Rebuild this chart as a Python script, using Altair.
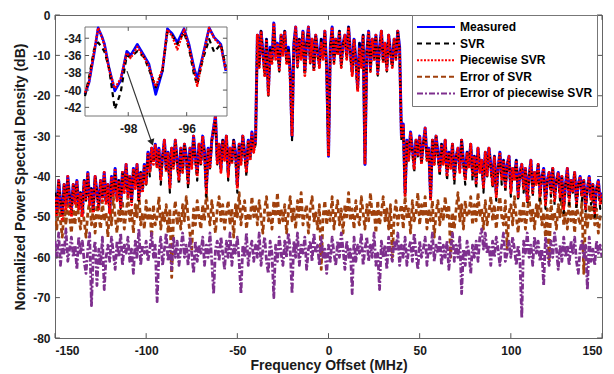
import altair as alt
import pandas as pd

# ---------------- data (1 MHz steps, -150 ... 150 MHz) ----------------
freq = list(range(-150, 151))

measured = [
    -44, -48, -41, -46, -49, -42, -47, -40, -45, -48, -42, -46, -41, -47, -44, -49, -41, -45, -39, -46,
    -43, -48, -40, -44, -47, -41, -45, -39, -46, -42, -48, -40, -44, -38, -45, -41, -47, -39, -43, -37,
    -44, -40, -46, -38, -42, -37, -45, -39, -43, -37, -41,
    -34, -38, -33, -36, -32, -37, -33, -40, -35, -31, -38, -34, -42, -33, -37, -31, -36, -40, -33, -38,
    -32, -35, -41, -33, -37, -30, -35, -39, -32, -36, -30, -34, -43, -33, -37, -31, -28, -25, -36, -32,
    -38, -31, -35, -30, -39, -33, -36, -31, -34, -42, -32, -36, -30, -34, -38, -31, -35, -29, -33, -31,
    -5, -12, -4, -9, -14, -6, -19, -8, -11, -2, -10, -7, -13, -5, -9, -4, -11, -8, -14, -30,
    -7, -3, -12, -6, -10, -4, -14, -7, -3, -11, -6, -13, -5, -9, -12, -6, -10, -4, -13, -35,
    -8, -3, -11, -6, -9, -4, -12, -7, -5, -10, -3, -9, -14, -6, -11, -18, -7, -12, -5, -37,
    -9, -4, -13, -6, -10, -5, -14, -8, -4, -11, -7, -13, -5, -9, -12, -6, -10, -4, -8,
    -30, -27, -44, -31, -35, -29, -33, -37, -31, -34, -30, -36, -32, -28, -35, -33, -45, -31, -36, -30,
    -34, -38, -32, -36, -31, -39, -34, -37, -32, -40, -35, -33, -38, -31, -36, -40, -34, -37, -32, -39,
    -35, -41, -33, -38, -36, -42, -34, -39, -33, -37, -41, -35, -44, -38, -34, -40, -36, -42, -37, -35,
    -43, -38, -40, -36, -44, -39, -37, -42, -38, -45, -40, -36, -43, -39, -41, -37, -44, -40, -38, -46,
    -41, -39, -43, -38, -45, -41, -39, -44, -40, -47, -42, -38, -45, -41, -43, -39, -46, -42, -40, -44,
    -41, -47, -43, -40, -45, -42, -48, -43, -41, -46, -44,
]

svr = [
    -44, -49, -41, -46, -50, -42, -47, -41, -45, -49, -42, -46, -42, -48, -44, -49, -41, -46, -40, -46,
    -43, -49, -40, -44, -48, -41, -45, -40, -47, -42, -48, -41, -44, -39, -46, -41, -48, -39, -43, -38,
    -45, -40, -47, -38, -42, -38, -46, -39, -43, -38, -42,
    -35, -40, -34, -36, -33, -38, -34, -42, -35, -32, -39, -34, -44, -33, -38, -31, -37, -42, -33, -39,
    -32, -35, -43, -34, -37, -31, -36, -41, -32, -37, -31, -34, -45, -33, -38, -31, -29, -26, -37, -32,
    -39, -31, -36, -30, -41, -33, -37, -31, -35, -44, -32, -37, -30, -35, -40, -31, -36, -30, -34, -32,
    -5, -13, -4, -10, -15, -6, -20, -8, -12, -3, -10, -8, -14, -5, -10, -4, -12, -8, -15, -31,
    -7, -4, -13, -6, -11, -4, -15, -7, -4, -12, -6, -14, -5, -10, -13, -6, -11, -4, -14, -35,
    -8, -4, -12, -6, -10, -4, -13, -7, -6, -11, -3, -10, -15, -6, -12, -19, -7, -13, -5, -37,
    -9, -5, -14, -6, -11, -5, -15, -8, -4, -12, -7, -14, -5, -10, -13, -6, -11, -4, -9,
    -31, -28, -45, -31, -36, -30, -34, -39, -31, -35, -31, -37, -32, -29, -36, -33, -46, -31, -37, -30,
    -35, -40, -32, -37, -31, -41, -34, -38, -32, -42, -35, -34, -39, -31, -37, -42, -34, -38, -32, -41,
    -35, -43, -33, -39, -36, -44, -34, -40, -33, -38, -43, -35, -46, -38, -35, -42, -36, -44, -37, -36,
    -45, -38, -41, -36, -46, -39, -38, -44, -38, -47, -40, -37, -45, -39, -42, -37, -46, -40, -39, -48,
    -41, -40, -45, -38, -47, -41, -40, -46, -40, -49, -42, -39, -47, -41, -44, -39, -48, -42, -41, -46,
    -41, -49, -43, -41, -47, -42, -50, -43, -42, -48, -45,
]

piecewise_svr = [
    -45, -50, -41, -47, -51, -42, -48, -40, -46, -50, -42, -47, -41, -48, -44, -50, -41, -46, -39, -47,
    -43, -49, -40, -45, -48, -41, -46, -39, -47, -42, -49, -40, -45, -38, -46, -41, -48, -39, -44, -37,
    -45, -40, -47, -38, -43, -37, -46, -39, -44, -37, -42,
    -34, -39, -33, -37, -32, -38, -33, -41, -35, -31, -39, -34, -43, -33, -38, -31, -37, -41, -33, -39,
    -32, -36, -42, -33, -38, -30, -36, -40, -32, -37, -30, -35, -44, -33, -38, -31, -28, -25, -37, -32,
    -39, -31, -36, -30, -40, -33, -37, -31, -35, -43, -32, -37, -30, -35, -39, -31, -36, -29, -34, -31,
    -5, -13, -4, -10, -15, -6, -20, -9, -12, -2, -11, -7, -14, -5, -10, -4, -12, -9, -16, -30,
    -8, -3, -13, -6, -11, -4, -15, -8, -3, -12, -6, -14, -5, -10, -13, -7, -11, -4, -14, -35,
    -9, -3, -12, -6, -10, -4, -13, -8, -5, -11, -3, -10, -15, -6, -12, -19, -8, -13, -5, -37,
    -10, -4, -14, -6, -11, -5, -15, -9, -4, -12, -7, -14, -5, -10, -13, -6, -11, -4, -9,
    -30, -27, -45, -31, -36, -29, -34, -38, -31, -35, -30, -37, -32, -28, -36, -33, -46, -31, -37, -30,
    -35, -39, -32, -37, -31, -40, -34, -38, -32, -41, -35, -33, -39, -31, -37, -41, -34, -38, -32, -40,
    -35, -42, -33, -39, -36, -43, -34, -40, -33, -38, -42, -35, -45, -38, -34, -41, -36, -43, -37, -35,
    -44, -38, -41, -36, -45, -39, -37, -43, -38, -46, -40, -36, -44, -39, -42, -37, -45, -40, -38, -47,
    -41, -39, -44, -38, -46, -41, -39, -45, -40, -48, -42, -38, -46, -41, -44, -39, -47, -42, -40, -45,
    -41, -48, -43, -40, -46, -42, -49, -43, -41, -47, -44,
]

error_svr = [
    -49, -53, -47, -51, -55, -48, -52, -46, -50, -54, -48, -52, -45, -50, -53, -47, -51, -55, -49, -46,
    -52, -48, -54, -47, -50, -53, -46, -51, -49, -55, -47, -52, -45, -50, -54, -48, -51, -46, -53, -49,
    -45, -51, -48, -54, -47, -50, -44, -52, -49, -53, -46, -51, -48, -55, -47, -52, -50, -45, -53, -49,
    -51, -47, -54, -48, -65, -50, -46, -52, -49, -53, -47, -51, -45, -50, -54, -58, -48, -52, -46, -50,
    -53, -47, -51, -44, -49, -52, -46, -50, -54, -48, -45, -51, -47, -53, -49, -46, -52, -48, -55, -47,
    -50, -44, -52, -48, -46, -53, -49, -51, -45, -50, -47, -52, -46, -50, -54, -48, -45, -51, -49, -53,
    -46, -50, -44, -52, -48, -51, -47, -54, -49, -45, -51, -48, -53, -46, -50, -44, -52, -49, -47, -54,
    -48, -45, -51, -49, -53, -47, -63, -50, -46, -52, -48, -51, -45, -53, -49, -46, -52, -48, -54, -47,
    -50, -44, -51, -48, -53, -46, -50, -52, -45, -49, -53, -47, -51, -44, -50, -48, -54, -46, -52, -49,
    -45, -51, -48, -53, -47, -60, -50, -46, -52, -49, -47, -53, -45, -50, -48, -54, -46, -51, -49, -44,
    -52, -47, -50, -45, -53, -48, -51, -46, -55, -49, -46, -52, -48, -51, -45, -50, -47, -60, -49, -53,
    -48, -44, -51, -47, -53, -46, -50, -49, -45, -52, -47, -51, -44, -50, -48, -53, -46, -52, -49, -45,
    -51, -47, -53, -48, -45, -50, -52, -46, -58, -49, -47, -52, -45, -50, -54, -48, -51, -46, -53, -49,
    -45, -51, -48, -53, -47, -50, -44, -52, -49, -55, -48, -61, -46, -51, -49, -53, -47, -50, -45, -52,
    -49, -53, -46, -51, -48, -54, -47, -50, -52, -46, -64, -49, -53, -47, -51, -45, -52, -48, -54, -50,
    -49,
]

error_piecewise_svr = [
    -56, -60, -54, -62, -57, -59, -53, -61, -58, -55, -60, -57, -63, -55, -59, -56, -61, -64, -58, -54,
    -72, -59, -56, -67, -58, -62, -55, -68, -60, -57, -61, -55, -59, -63, -56, -60, -54, -62, -57, -59,
    -55, -61, -58, -64, -56, -60, -53, -62, -57, -59, -56, -61, -58, -54, -60, -57, -71, -59, -55, -62,
    -58, -54, -61, -57, -63, -55, -60, -56, -62, -58, -54, -60, -57, -62, -55, -59, -64, -56, -61, -57,
    -59, -55, -62, -57, -60, -54, -61, -69, -58, -56, -61, -55, -59, -63, -56, -60, -54, -62, -57, -59,
    -55, -61, -69, -57, -60, -54, -62, -58, -56, -61, -57, -60, -54, -62, -58, -55, -61, -64, -56, -59,
    -70, -57, -61, -55, -59, -62, -56, -60, -54, -58, -69, -56, -60, -54, -62, -57, -59, -55, -63, -58,
    -56, -61, -54, -59, -57, -62, -55, -60, -58, -64, -57, -61, -55, -59, -62, -56, -60, -54, -58, -63,
    -56, -60, -58, -69, -55, -61, -57, -59, -54, -62, -58, -55, -61, -57, -60, -54, -62, -59, -68, -56,
    -60, -57, -63, -55, -59, -61, -56, -58, -54, -62, -57, -60, -55, -62, -58, -56, -61, -54, -59, -63,
    -56, -60, -58, -55, -62, -57, -59, -54, -61, -57, -59, -55, -62, -57, -60, -56, -63, -58, -54, -61,
    -57, -60, -55, -69, -58, -62, -56, -59, -64, -57, -60, -56, -61, -55, -53, -58, -54, -59, -57, -62,
    -56, -60, -55, -58, -62, -57, -54, -61, -59, -56, -60, -55, -58, -62, -57, -61, -75, -56, -59, -54,
    -60, -57, -62, -55, -59, -56, -61, -58, -67, -55, -59, -62, -56, -60, -54, -58, -63, -57, -61, -55,
    -60, -57, -62, -56, -59, -55, -61, -64, -58, -56, -60, -57, -68, -55, -61, -58, -62, -56, -59, -57,
    -60,
]

# zoomed inset: -99.5 ... -94.6 MHz
inset_freq = [-99.48, -99.34, -99.17, -99.03, -98.89, -98.81, -98.66, -98.46, -98.26, -98.05,
              -97.92, -97.69, -97.46, -97.29, -97.06, -96.83, -96.66, -96.49, -96.32, -96.09,
              -95.92, -95.75, -95.64, -95.46, -95.23, -95.06, -94.83, -94.66]
inset_measured = [-40.5, -39.1, -35.8, -32.8, -33.9, -34.7, -37.4, -40.1, -38.9, -35.5,
                  -36.0, -34.7, -36.0, -37.0, -40.5, -37.8, -32.9, -33.5, -34.5, -32.9,
                  -34.7, -37.4, -38.7, -36.2, -32.8, -33.9, -34.7, -37.8]
inset_svr = [-40.7, -38.5, -35.3, -34.5, -35.1, -35.6, -37.4, -42.2, -40.3, -36.0,
             -36.2, -35.5, -36.2, -37.6, -39.7, -37.8, -33.3, -33.7, -34.7, -33.3,
             -35.2, -38.2, -39.4, -36.6, -34.1, -35.6, -34.7, -37.3]
inset_psvr = [-40.3, -39.0, -35.6, -32.8, -34.0, -34.9, -37.6, -39.8, -38.7, -35.7,
              -36.3, -35.0, -36.2, -37.3, -39.6, -37.6, -33.0, -33.8, -35.3, -33.0,
              -35.0, -37.6, -39.5, -36.4, -32.8, -34.0, -34.9, -37.7]

series_names = ["Measured", "SVR", "Piecewise SVR", "Error of SVR", "Error of piecewise SVR"]
series_colors = ["#0000ff", "#000000", "#ff0000", "#a0400c", "#7e2f8e"]
series_dashes = [[1, 0], [5, 4], [2, 1.5], [5, 3], [6, 2, 2, 2]]

x_ticks = [-150, -100, -50, 0, 50, 100, 150]
y_ticks = [-80, -70, -60, -50, -40, -30, -20, -10, 0]
inset_x_ticks = [-98, -96]
inset_y_ticks = [-42, -40, -38, -36, -34]

# arrow from the inset to the zoomed region (main axes units)
arrow_start = (-110.5, -13.9)
arrow_end = (-96.9, -31.6)

for s in (measured, svr, piecewise_svr, error_svr, error_piecewise_svr):
    assert len(s) == len(freq), len(s)

# ---------------- chart ----------------
FONT = "Liberation Sans"
X_MAIN = alt.Scale(domain=[-150, 150], nice=False, zero=False)
Y_MAIN = alt.Scale(domain=[-80, 0], nice=False, zero=False)
LABEL_EXPR = "'' + datum.value"

x_axis = alt.Axis(values=x_ticks, title="Frequency Offset (MHz)", labelExpr=LABEL_EXPR,
                  labelPadding=7, tickSize=0, domain=False, grid=False, titlePadding=2)
y_axis = alt.Axis(values=y_ticks, title="Normalized Power Spectral Density (dB)", labelExpr=LABEL_EXPR,
                  labelPadding=5, tickSize=0, domain=False, grid=False, titlePadding=5)

legend = alt.Legend(orient="none", legendX=357, legendY=0, title=None, symbolType="stroke",
                    symbolSize=1444, symbolStrokeWidth=2, clipHeight=16, rowPadding=0.6, padding=4,
                    labelOffset=4, labelFont=FONT, labelFontSize=12, labelFontWeight="bold",
                    labelColor="#000000", labelLimit=300, strokeColor="#777777", fillColor="white")

color_enc = alt.Color("series:N", scale=alt.Scale(domain=series_names, range=series_colors), legend=legend)
dash_enc = alt.StrokeDash("series:N", scale=alt.Scale(domain=series_names, range=series_dashes), legend=legend)


def series_layer(name, values, width):
    df = pd.DataFrame({"f": freq, "p": values, "series": name})
    return alt.Chart(df).mark_line(strokeWidth=width, strokeJoin="round", clip=True).encode(
        x=alt.X("f:Q", scale=X_MAIN, axis=x_axis),
        y=alt.Y("p:Q", scale=Y_MAIN, axis=y_axis),
        color=color_enc,
        strokeDash=dash_enc,
        order=alt.Order("f:Q"),
    )


# inward tick marks of the main axes
tick_x_df = pd.DataFrame({"v": x_ticks})
tick_y_df = pd.DataFrame({"v": y_ticks})
tick_style = dict(color="#555555", strokeWidth=1)
ticks_main = [
    alt.Chart(tick_x_df).mark_rule(**tick_style).encode(
        x=alt.X("v:Q", scale=X_MAIN, axis=x_axis), y=alt.datum(-80, scale=Y_MAIN), y2=alt.datum(-78.8)),
    alt.Chart(tick_x_df).mark_rule(**tick_style).encode(
        x=alt.X("v:Q", scale=X_MAIN, axis=x_axis), y=alt.datum(0, scale=Y_MAIN), y2=alt.datum(-1.2)),
    alt.Chart(tick_y_df).mark_rule(**tick_style).encode(
        y=alt.Y("v:Q", scale=Y_MAIN, axis=y_axis), x=alt.datum(-150, scale=X_MAIN), x2=alt.datum(-147.3)),
    alt.Chart(tick_y_df).mark_rule(**tick_style).encode(
        y=alt.Y("v:Q", scale=Y_MAIN, axis=y_axis), x=alt.datum(150, scale=X_MAIN), x2=alt.datum(147.3)),
]

main = alt.layer(
    series_layer("Error of SVR", error_svr, 2.8),
    series_layer("Error of piecewise SVR", error_piecewise_svr, 2.8),
    series_layer("Measured", measured, 3.0),
    series_layer("SVR", svr, 2.2),
    series_layer("Piecewise SVR", piecewise_svr, 2.8),
    *ticks_main,
)

# ---------------- inset ----------------
XI = alt.Scale(domain=[-99.48, -94.62], range=[30, 172], nice=False, zero=False)
YI = alt.Scale(domain=[-43, -32.7], range=[101, 12], nice=False, zero=False)
ix_axis = alt.Axis(orient="bottom", offset=-222, values=inset_x_ticks, title=None, labelExpr=LABEL_EXPR,
                   labelPadding=7, tickSize=0, domain=False, grid=False)
iy_axis = alt.Axis(orient="left", offset=-30, values=inset_y_ticks, title=None, labelExpr=LABEL_EXPR,
                   labelPadding=4, tickSize=0, domain=False, grid=False)

frame_df = pd.DataFrame({"x0": [-99.48], "x1": [-94.62], "y0": [-43.0], "y1": [-32.7]})
inset_frame = alt.Chart(frame_df).mark_rect(fill="white", stroke="#777777", strokeWidth=1).encode(
    x=alt.X("x0:Q", scale=XI, axis=ix_axis), x2="x1:Q",
    y=alt.Y("y0:Q", scale=YI, axis=iy_axis), y2="y1:Q")


def inset_layer(values, color, width, dash):
    df = pd.DataFrame({"f": inset_freq, "p": values})
    return alt.Chart(df).mark_line(color=color, strokeWidth=width, strokeDash=dash, strokeJoin="round").encode(
        x=alt.X("f:Q", scale=XI, axis=ix_axis), y=alt.Y("p:Q", scale=YI, axis=iy_axis),
        order=alt.Order("f:Q"))


itx = pd.DataFrame({"v": inset_x_ticks})
ity = pd.DataFrame({"v": inset_y_ticks})
inset_ticks = [
    alt.Chart(itx).mark_rule(**tick_style).encode(
        x=alt.X("v:Q", scale=XI, axis=ix_axis), y=alt.datum(-43, scale=YI), y2=alt.datum(-42.55)),
    alt.Chart(itx).mark_rule(**tick_style).encode(
        x=alt.X("v:Q", scale=XI, axis=ix_axis), y=alt.datum(-32.7, scale=YI), y2=alt.datum(-33.15)),
    alt.Chart(ity).mark_rule(**tick_style).encode(
        y=alt.Y("v:Q", scale=YI, axis=iy_axis), x=alt.datum(-99.48, scale=XI), x2=alt.datum(-99.34)),
    alt.Chart(ity).mark_rule(**tick_style).encode(
        y=alt.Y("v:Q", scale=YI, axis=iy_axis), x=alt.datum(-94.62, scale=XI), x2=alt.datum(-94.76)),
]

inset = alt.layer(
    inset_frame,
    inset_layer(inset_measured, "#0000ff", 2.6, [1, 0]),
    inset_layer(inset_svr, "#000000", 2.2, [5, 4]),
    inset_layer(inset_psvr, "#ff0000", 2.4, [2, 1.5]),
    *inset_ticks,
)

# ---------------- arrow ----------------
arrow_df = pd.DataFrame({"x0": [arrow_start[0]], "y0": [arrow_start[1]],
                         "x1": [arrow_end[0]], "y1": [arrow_end[1]]})
arrow_line = alt.Chart(arrow_df).mark_rule(color="#333333", strokeWidth=1.2).encode(
    x=alt.X("x0:Q", scale=X_MAIN, axis=None), y=alt.Y("y0:Q", scale=Y_MAIN, axis=None),
    x2="x1:Q", y2="y1:Q")
arrow_head = alt.Chart(arrow_df).mark_point(shape="triangle-down", filled=True, color="#222222",
                                            size=55, angle=341, opacity=1).encode(
    x=alt.X("x1:Q", scale=X_MAIN, axis=None), y=alt.Y("y1:Q", scale=Y_MAIN, axis=None))
arrow = alt.layer(arrow_line, arrow_head)

chart = alt.layer(main, inset, arrow).resolve_scale(
    x="independent", y="independent"
).properties(
    width=547, height=323,
    autosize=alt.AutoSizeParams(type="none"),
    padding={"left": 47, "top": 7, "right": 3, "bottom": 36},
    background="white",
).configure_view(
    stroke="#666666", strokeWidth=1
).configure_axis(
    labelFont=FONT, labelFontWeight="bold", labelFontSize=12, labelColor="#1a1a1a",
    titleFont=FONT, titleFontWeight="bold", titleFontSize=14, titleColor="#1a1a1a",
)

chart.save("out.html", embed_options={"renderer": "svg", "actions": False})
